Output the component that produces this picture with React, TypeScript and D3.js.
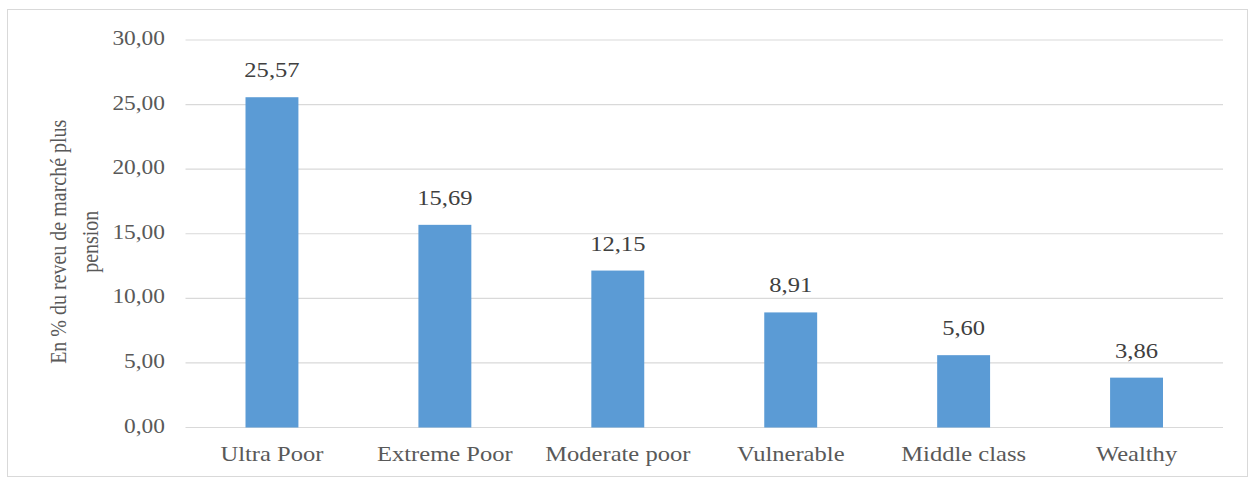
import React from "react";
import * as d3 from "d3";

const categories = ["Ultra Poor", "Extreme Poor", "Moderate poor", "Vulnerable", "Middle class", "Wealthy"];
const values = [25.57, 15.69, 12.15, 8.91, 5.6, 3.86];
const yTicks = [0, 5, 10, 15, 20, 25, 30];
const yTitle = ["En % du reveu de marché plus", "pension"];

const W = 1249, H = 480;
const fmt = (v: number) => v.toFixed(2).replace(".", ",");

export default function App() {
  const left = 185.5, right = 1223, top = 40, bottom = 427.5;
  const x = d3.scaleBand<string>().domain(categories).range([left, right]).paddingInner(0.694).paddingOuter(0.347);
  const y = d3.scaleLinear().domain([0, 30]).range([bottom, top]);
  const font = "'Liberation Serif', 'Times New Roman', serif";
  const txt = "#595959";
  const sx = 1.17;
  return (
    <svg width={W} height={H} style={{ position: "absolute", left: 0, top: 0, fontFamily: font }}>
      <rect x={0} y={0} width={W} height={H} fill="#fff" />
      <rect x={7.5} y={9.5} width={1240} height={467} fill="#fff" stroke="#d9d9d9" strokeWidth={1} />
      {yTicks.map((t) => (
        <g key={t}>
          <line x1={left} x2={right} y1={y(t)} y2={y(t)} stroke="#d9d9d9" strokeWidth={1.2} />
          <text transform={`translate(165,${y(t) + 5}) scale(${sx},1)`} textAnchor="end" fontSize={20} fill={txt}>{fmt(t)}</text>
        </g>
      ))}
      {categories.map((c, i) => {
        const cx = (x(c) as number) + x.bandwidth() / 2;
        return (
          <g key={c}>
            <rect x={x(c)} y={y(values[i])} width={x.bandwidth()} height={bottom - y(values[i])} fill="#5B9BD5" />
            <text transform={`translate(${cx},${y(values[i]) - 20}) scale(${sx},1)`} textAnchor="middle" fontSize={21} fill="#404040">{fmt(values[i])}</text>
            <text transform={`translate(${cx},461) scale(${sx},1)`} textAnchor="middle" fontSize={21} fill={txt}>{c}</text>
          </g>
        );
      })}
      <text transform={`translate(66,${(top + bottom) / 2 + 8}) rotate(-90) scale(1,${sx})`} textAnchor="middle" fontSize={20} fill={txt}>
        <tspan x={0} dy={0}>{yTitle[0]}</tspan>
        <tspan x={0} dy={27}>{yTitle[1]}</tspan>
      </text>
    </svg>
  );
}
